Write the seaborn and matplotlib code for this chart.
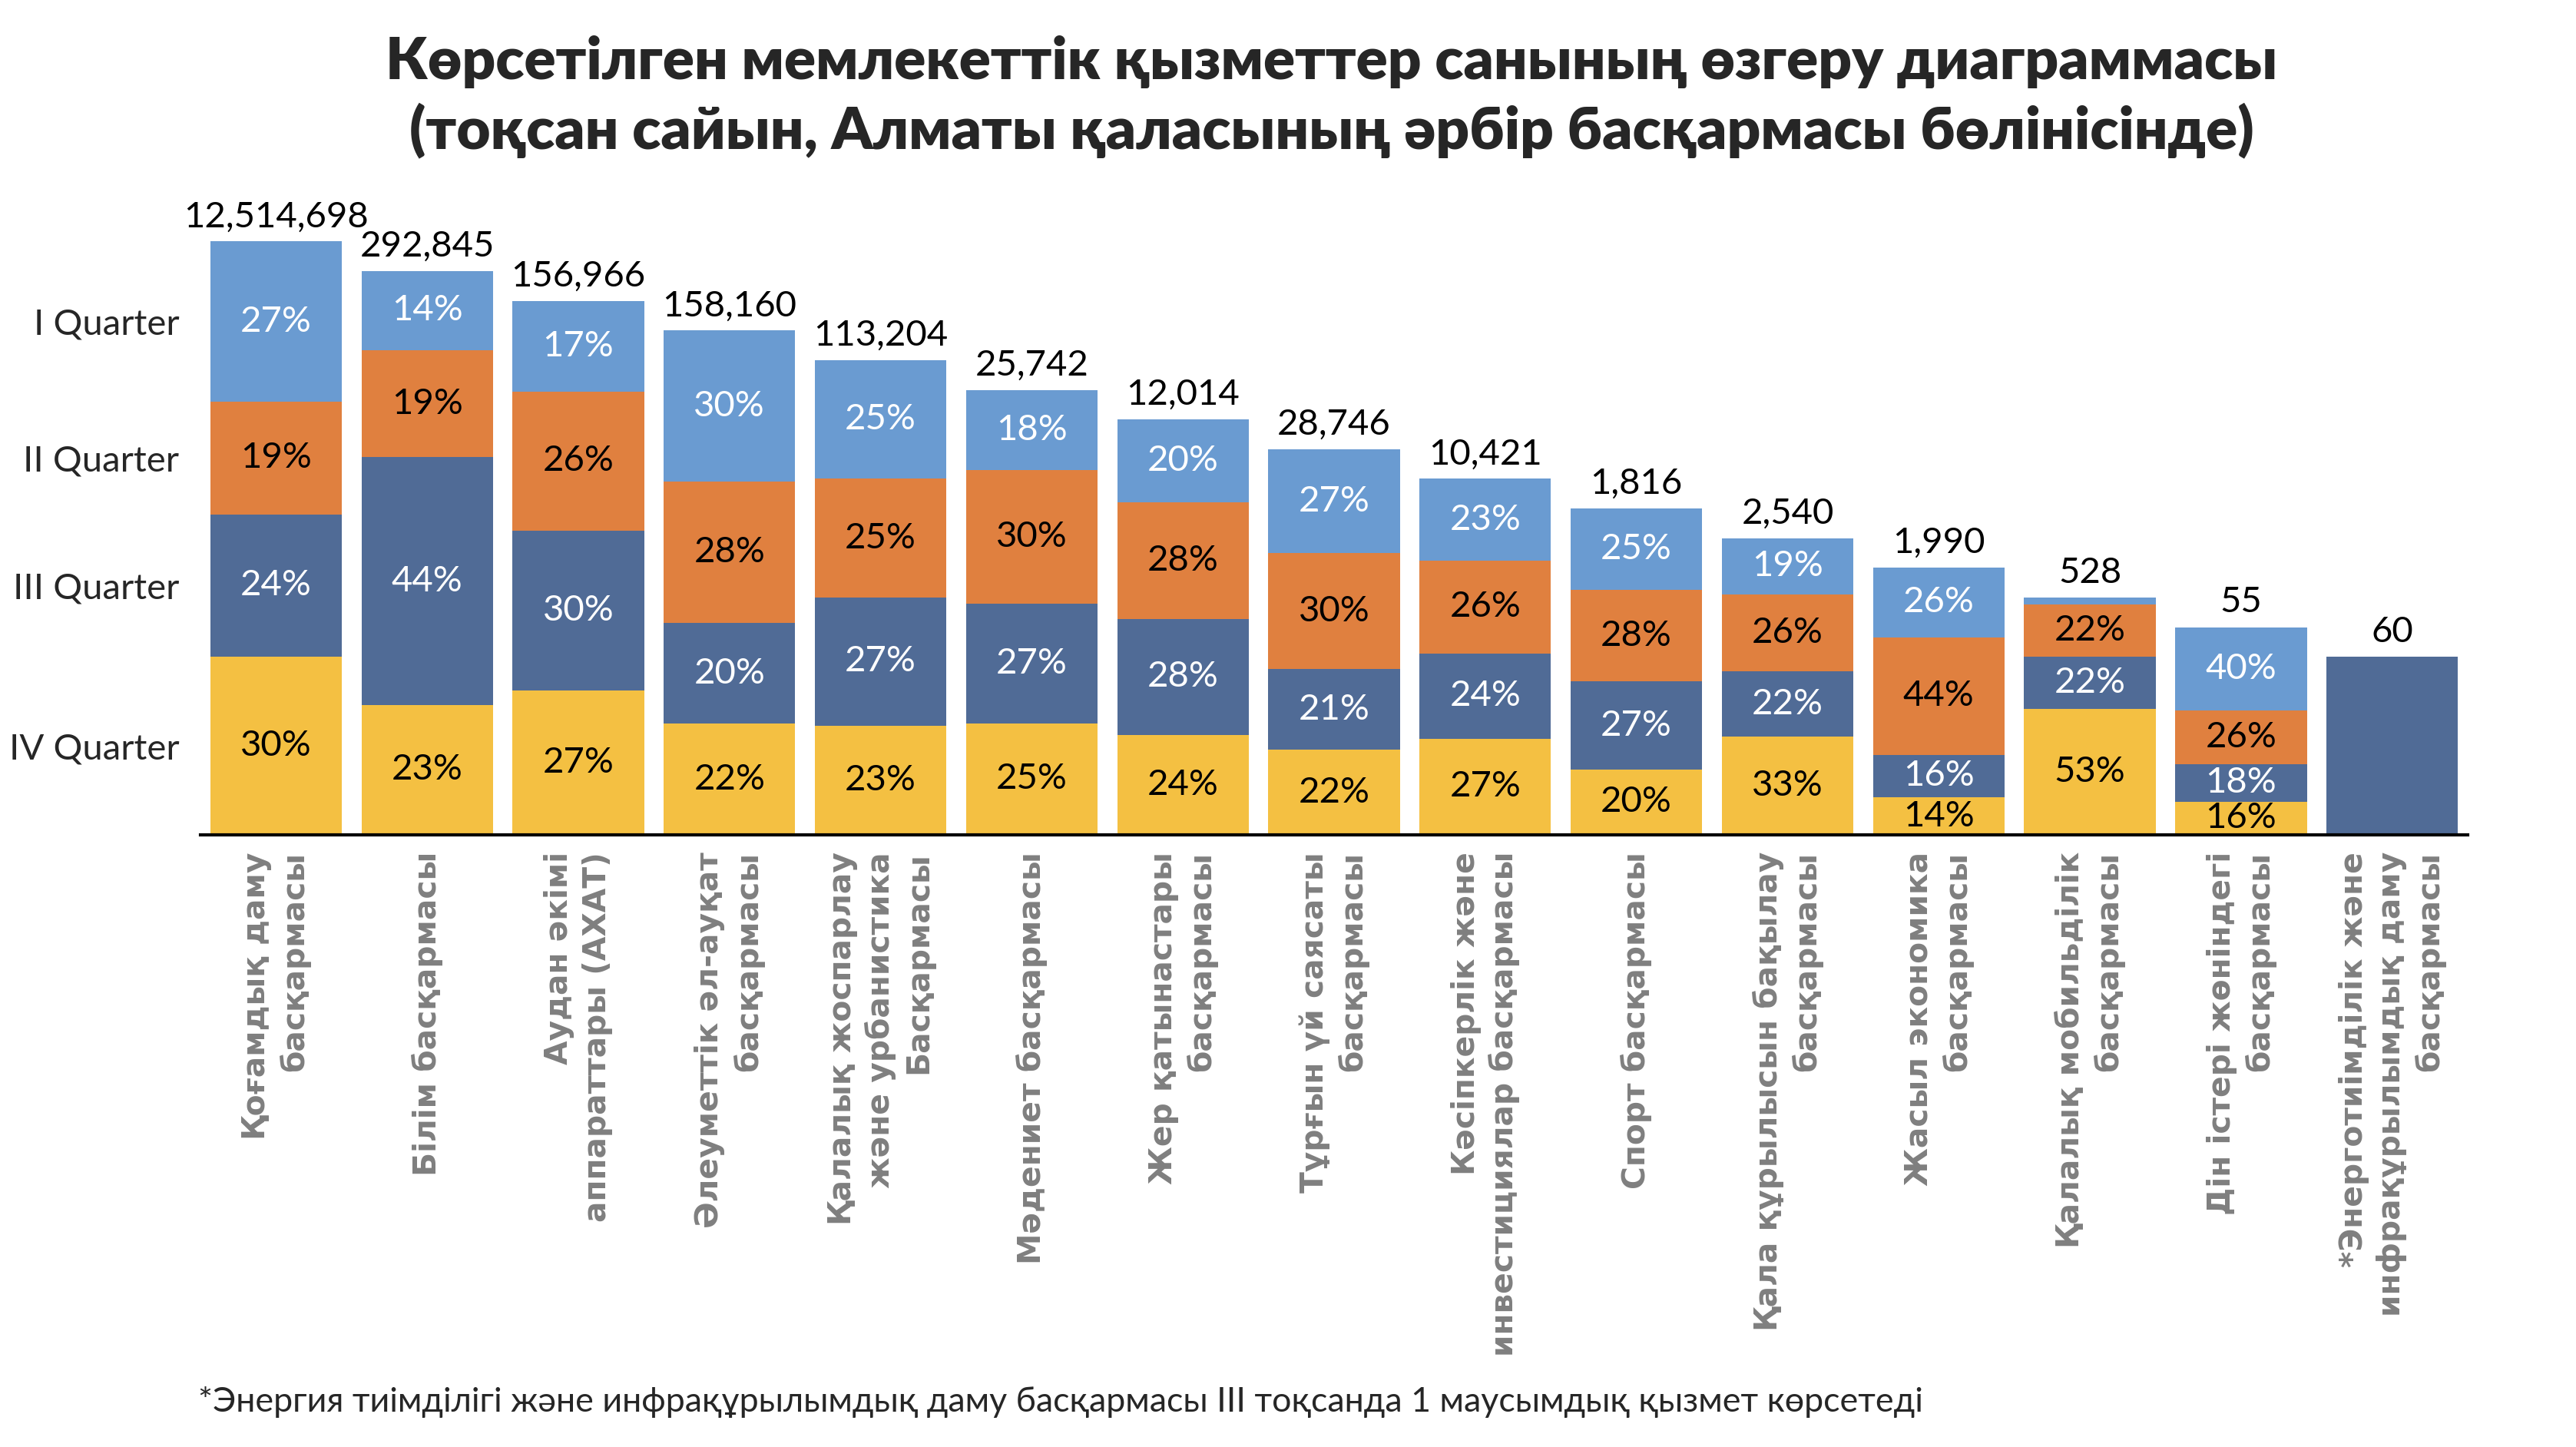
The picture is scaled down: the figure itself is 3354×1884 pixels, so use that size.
import matplotlib
matplotlib.use("Agg")
import matplotlib.pyplot as plt
import seaborn as sns
import pandas as pd
import numpy as np

categories = [
    "Қоғамдық даму\nбасқармасы",
    "Білім басқармасы",
    "Аудан әкімі\nаппараттары (АХАТ)",
    "Әлеуметтік әл-ауқат\nбасқармасы",
    "Қалалық жоспарлау\nжәне урбанистика\nБасқармасы",
    "Мәдениет басқармасы",
    "Жер қатынастары\nбасқармасы",
    "Тұрғын үй саясаты\nбасқармасы",
    "Кәсіпкерлік және\nинвестициялар басқармасы",
    "Спорт басқармасы",
    "Қала құрылысын бақылау\nбасқармасы",
    "Жасыл экономика\nбасқармасы",
    "Қалалық мобильділік\nбасқармасы",
    "Дін істері жөніндегі\nбасқармасы",
    "*Энерготиімділік және\nинфрақұрылымдық даму\nбасқармасы",
]
q1 = [27, 14, 17, 30, 25, 18, 20, 27, 23, 25, 19, 26, 3, 40, 0]
q2 = [19, 19, 26, 28, 25, 30, 28, 30, 26, 28, 26, 44, 22, 26, 0]
q3 = [24, 44, 30, 20, 27, 27, 28, 21, 24, 27, 22, 16, 22, 18, 100]
q4 = [30, 23, 27, 22, 23, 25, 24, 22, 27, 20, 33, 14, 53, 16, 0]
totals = [12514698, 292845, 156966, 158160, 113204, 25742, 12014, 28746,
          10421, 1816, 2540, 1990, 528, 55, 60]
bar_heights = [20, 19, 18, 17, 16, 15, 14, 13, 12, 11, 10, 9, 8, 7, 6]
quarter_labels = ["I Quarter", "II Quarter", "III Quarter", "IV Quarter"]
title = ("Көрсетілген мемлекеттік қызметтер санының өзгеру диаграммасы\n"
         "(тоқсан сайын, Алматы қаласының әрбір басқармасы бөлінісінде)")
footnote = ("*Энергия тиімділігі және инфрақұрылымдық даму басқармасы "
            "III тоқсанда 1 маусымдық қызмет көрсетеді")

colors = {"I": "#6A9BD1", "II": "#E0803F", "III": "#506B96", "IV": "#F4C042"}
text_colors = {"I": "white", "II": "black", "III": "white", "IV": "black"}

sns.set_style("white")
plt.rcParams['font.family'] = ['Lato', 'DejaVu Sans']

df = pd.DataFrame({"cat": categories, "I": q1, "II": q2, "III": q3, "IV": q4,
                   "total": totals, "h": bar_heights})
s = df[["I", "II", "III", "IV"]].sum(axis=1)
for q in ["I", "II", "III", "IV"]:
    df["seg_" + q] = df[q] / s * df["h"]
# stacking order bottom -> top: IV, III, II, I
df["top_IV"] = df["seg_IV"]
df["top_III"] = df["top_IV"] + df["seg_III"]
df["top_II"] = df["top_III"] + df["seg_II"]
df["top_I"] = df["top_II"] + df["seg_I"]

fig = plt.figure(figsize=(16.77, 9.42), dpi=200)
ax = fig.add_axes([0.0778, 0.4231, 0.958 - 0.0778, 0.8331 - 0.4231])

for q in ["I", "II", "III", "IV"]:
    sns.barplot(data=df, x="cat", y="top_" + q, order=categories,
                color=colors[q], saturation=1, width=0.87, ax=ax,
                edgecolor="none", linewidth=0)

ax.set_xlim(-0.5, 14.5)
ax.set_ylim(0, 20)

# percent labels
for i, row in df.iterrows():
    for q in ["IV", "III", "II", "I"]:
        pct = row[q]
        if pct < 5 or pct >= 100:
            continue
        top = row["top_" + q]
        mid = top - row["seg_" + q] / 2
        ax.text(i, mid, f"{pct}%", ha="center", va="center",
                color=text_colors[q], fontsize=17)
    ax.annotate(f"{row['total']:,}", xy=(i, row["h"]), xytext=(0, 4),
                textcoords="offset points", ha="center", va="bottom",
                fontsize=17, color="black", annotation_clip=False)

# quarter labels on y axis at midpoints of first bar's segments
r0 = df.iloc[0]
ypos = [r0["top_" + q] - r0["seg_" + q] / 2 for q in ["I", "II", "III", "IV"]]
ax.set_yticks(ypos)
ax.set_yticklabels(quarter_labels, fontsize=17)
ax.tick_params(axis="y", length=0, pad=10)

ax.set_xlabel("")
ax.set_ylabel("")
ax.set_xticks(range(len(categories)))
ax.set_xticklabels(categories, rotation=90, ha="center", va="top",
                   fontsize=14.7, color="#7F7F7F", fontweight="bold",
                   family=["DejaVu Sans"], multialignment="right",
                   linespacing=1.3)
ax.tick_params(axis="x", length=0, pad=8)

for sp in ["top", "right", "left"]:
    ax.spines[sp].set_visible(False)
ax.spines["bottom"].set_color("black")
ax.spines["bottom"].set_linewidth(1.5)

fig.text(0.517, 0.933, title, ha="center", va="center", fontsize=27.5,
         fontweight="heavy", linespacing=1.3)
fig.text(0.077, 0.031, footnote, ha="left", va="center", fontsize=16.1)

fig.savefig("out.png", dpi=200)
